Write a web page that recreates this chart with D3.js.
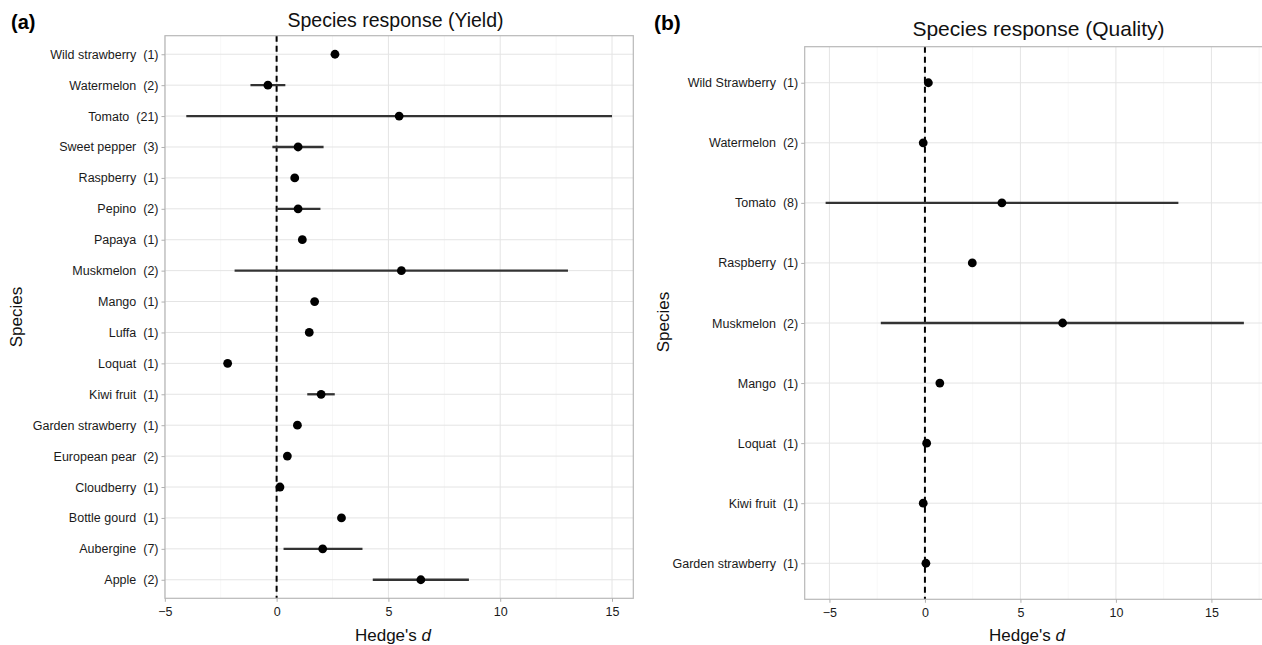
<!DOCTYPE html>
<html>
<head>
<meta charset="utf-8">
<script src="https://d3js.org/d3.v7.min.js"></script>
<style>
body { margin: 0; background: #fff; }
svg text { font-family: "Liberation Sans", Arial, Helvetica, sans-serif; }
</style>
</head>
<body>
<svg id="chart" width="1262" height="645"></svg>
<script>
// (a) species response, yield
var speciesA = ['Wild strawberry', 'Watermelon', 'Tomato', 'Sweet pepper', 'Raspberry', 'Pepino', 'Papaya', 'Muskmelon', 'Mango', 'Luffa', 'Loquat', 'Kiwi fruit', 'Garden strawberry', 'European pear', 'Cloudberry', 'Bottle gourd', 'Aubergine', 'Apple'];
var countA = [1, 2, 21, 3, 1, 2, 1, 2, 1, 1, 1, 1, 1, 2, 1, 1, 7, 2];
var meanA = [2.61, -0.39, 5.48, 0.96, 0.81, 0.96, 1.15, 5.58, 1.70, 1.46, -2.19, 1.99, 0.93, 0.48, 0.15, 2.90, 2.06, 6.45];
var lowerA = [null, -1.17, -4.04, -0.19, null, 0.0, null, -1.88, null, null, null, 1.37, null, null, null, null, 0.31, 4.30];
var upperA = [null, 0.39, 15.0, 2.10, null, 1.96, null, 13.03, null, null, null, 2.60, null, null, null, null, 3.84, 8.60];

// (b) species response, quality
var speciesB = ['Wild Strawberry', 'Watermelon', 'Tomato', 'Raspberry', 'Muskmelon', 'Mango', 'Loquat', 'Kiwi fruit', 'Garden strawberry'];
var countB = [1, 2, 8, 1, 2, 1, 1, 1, 1];
var meanB = [0.18, -0.09, 4.03, 2.48, 7.21, 0.78, 0.09, -0.09, 0.05];
var lowerB = [null, null, -5.20, null, -2.31, null, null, null, null];
var upperB = [null, null, 13.27, null, 16.70, null, null, null, null];

var xTicks = [-5, 0, 5, 10, 15];
var xMinor = [-7.5, -2.5, 2.5, 7.5, 12.5, 17.5];

var svg = d3.select('#chart');

drawPanel(svg, {
    species: speciesA, count: countA, mean: meanA, lower: lowerA, upper: upperA,
    left: 165, right: 633.3, top: 35.7, bottom: 598.3,
    title: 'Species response (Yield)', titleX: 395.5, titleY: 27, titleSize: 19.5,
    tag: '(a)', tagX: 11, tagY: 29, tagSize: 20,
    ylabX: 22, ylabY: 317, xlabX: 393, xlabY: 641
});

drawPanel(svg, {
    species: speciesB, count: countB, mean: meanB, lower: lowerB, upper: upperB,
    left: 804.7, right: 1264.8, top: 46.7, bottom: 599.3,
    title: 'Species response (Quality)', titleX: 1038.5, titleY: 36, titleSize: 21,
    tag: '(b)', tagX: 654, tagY: 30, tagSize: 21,
    ylabX: 669, ylabY: 322, xlabX: 1027, xlabY: 641
});

function drawPanel(svg, p) {
    var n = p.species.length;
    var rows = d3.range(n);

    // ggplot style 5% expansion of the data range
    var lo = d3.min(rows, function(i) { return p.lower[i] != null ? p.lower[i] : p.mean[i]; });
    var hi = d3.max(rows, function(i) { return p.upper[i] != null ? p.upper[i] : p.mean[i]; });
    var pad = (hi - lo) * 0.05;

    var x = d3.scaleLinear().domain([lo - pad, hi + pad]).range([p.left, p.right]);
    var y = d3.scalePoint().domain(rows).range([p.top, p.bottom]).padding(0.6);

    var g = svg.append('g');

    g.append('rect')
        .attr('x', p.left).attr('y', p.top)
        .attr('width', p.right - p.left).attr('height', p.bottom - p.top)
        .attr('fill', '#fff');

    var minor = xMinor.filter(function(v) { return v > x.domain()[0] && v < x.domain()[1]; });
    g.selectAll('.minor').data(minor).enter().append('line')
        .attr('x1', x).attr('x2', x)
        .attr('y1', p.top).attr('y2', p.bottom)
        .attr('stroke', '#f1f1f1').attr('stroke-width', 0.6);

    g.selectAll('.vmajor').data(xTicks).enter().append('line')
        .attr('x1', x).attr('x2', x)
        .attr('y1', p.top).attr('y2', p.bottom)
        .attr('stroke', '#e4e4e4').attr('stroke-width', 1);

    g.selectAll('.hmajor').data(rows).enter().append('line')
        .attr('x1', p.left).attr('x2', p.right)
        .attr('y1', y).attr('y2', y)
        .attr('stroke', '#e4e4e4').attr('stroke-width', 1);

    // zero line
    g.append('line')
        .attr('x1', x(0)).attr('x2', x(0))
        .attr('y1', p.top).attr('y2', p.bottom)
        .attr('stroke', '#000').attr('stroke-width', 2)
        .attr('stroke-dasharray', '6,4');

    var ci = rows.filter(function(i) { return p.lower[i] != null; });
    g.selectAll('.ci').data(ci).enter().append('line')
        .attr('x1', function(i) { return x(p.lower[i]); })
        .attr('x2', function(i) { return x(p.upper[i]); })
        .attr('y1', y).attr('y2', y)
        .attr('stroke', '#333').attr('stroke-width', 2.3);

    g.selectAll('.pt').data(rows).enter().append('circle')
        .attr('cx', function(i) { return x(p.mean[i]); })
        .attr('cy', y)
        .attr('r', 4.4)
        .attr('fill', '#000');

    g.append('rect')
        .attr('x', p.left).attr('y', p.top)
        .attr('width', p.right - p.left).attr('height', p.bottom - p.top)
        .attr('fill', 'none').attr('stroke', '#b8b8b8').attr('stroke-width', 1.2);

    var xAxis = g.append('g')
        .attr('transform', 'translate(0,' + p.bottom + ')')
        .call(d3.axisBottom(x).tickValues(xTicks).tickSize(3.5).tickPadding(5));

    var yAxis = g.append('g')
        .attr('transform', 'translate(' + p.left + ',0)')
        .call(d3.axisLeft(y).tickSize(3.5).tickPadding(3)
            .tickFormat(function(i) { return p.species[i] + '  (' + p.count[i] + ')'; }));

    [xAxis, yAxis].forEach(function(a) {
        a.select('.domain').remove();
        a.selectAll('.tick line').attr('stroke', '#b0b0b0').attr('stroke-width', 1);
        a.selectAll('.tick text')
            .attr('fill', '#1a1a1a')
            .style('font-size', '12.5px')
            .style('white-space', 'pre');
    });

    svg.append('text')
        .attr('x', p.titleX).attr('y', p.titleY)
        .attr('text-anchor', 'middle')
        .style('font-size', p.titleSize + 'px')
        .attr('fill', '#111')
        .text(p.title);

    svg.append('text')
        .attr('x', p.tagX).attr('y', p.tagY)
        .style('font-size', p.tagSize + 'px')
        .style('font-weight', 'bold')
        .attr('fill', '#000')
        .text(p.tag);

    svg.append('text')
        .attr('transform', 'translate(' + p.ylabX + ',' + p.ylabY + ') rotate(-90)')
        .attr('text-anchor', 'middle')
        .style('font-size', '17px')
        .attr('fill', '#111')
        .text('Species');

    var xl = svg.append('text')
        .attr('x', p.xlabX).attr('y', p.xlabY)
        .attr('text-anchor', 'middle')
        .style('font-size', '17px')
        .attr('fill', '#111');
    xl.append('tspan').text("Hedge's ");
    xl.append('tspan').style('font-style', 'italic').text('d');
}
</script>
</body>
</html>
